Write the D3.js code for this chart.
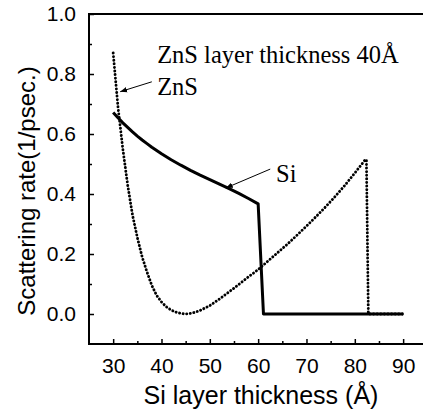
<!DOCTYPE html>
<html>
<head>
<meta charset="utf-8">
<script src="https://cdn.jsdelivr.net/npm/d3@7"></script>
<style>
  body { margin: 0; background: #fff; }
  svg { display: block; }
</style>
</head>
<body>
<script>
var W = 423, H = 410;

// Si layer thickness (Å) vs scattering rate (1/psec.)
var siX = [30, 31, 32, 33, 34, 35, 36, 37, 38, 39, 40, 42, 44, 46, 48, 50, 52, 54, 56, 58, 60, 61.1, 90];
var siY = [0.672, 0.654, 0.637, 0.622, 0.607, 0.593, 0.580, 0.568, 0.556, 0.545, 0.534, 0.514, 0.496, 0.479, 0.463, 0.448, 0.433, 0.418, 0.402, 0.385, 0.367, 0.0, 0.0];

var znsX = [30, 30.5, 31, 31.5, 32, 33, 34, 35, 36, 37, 38, 39, 40, 41, 42, 43, 44, 45, 46, 47, 48, 50, 52, 55, 58, 60, 62, 64, 66, 68, 70, 72, 74, 76, 78, 80, 82, 82.4, 82.8, 90];
var znsY = [0.87, 0.78, 0.69, 0.62, 0.55, 0.43, 0.33, 0.255, 0.19, 0.14, 0.095, 0.062, 0.04, 0.024, 0.013, 0.006, 0.002, 0.0, 0.002, 0.006, 0.012, 0.028, 0.05, 0.086, 0.124, 0.148, 0.176, 0.204, 0.232, 0.262, 0.293, 0.325, 0.358, 0.393, 0.43, 0.47, 0.511, 0.515, 0.0, 0.0];

var xTicks = [30, 40, 50, 60, 70, 80, 90];
var xMinor = [35, 45, 55, 65, 75, 85];
var yTicks = [0.0, 0.2, 0.4, 0.6, 0.8, 1.0];
var yMinor = [0.1, 0.3, 0.5, 0.7, 0.9];

var svg = d3.select("body").append("svg")
  .attr("width", W)
  .attr("height", H);

var x = d3.scaleLinear().domain([25, 95]).range([89, 427.3]);
var y = d3.scaleLinear().domain([-0.1, 1.0]).range([344, 14]);

var sans = "Arial, 'Liberation Sans', sans-serif";
var serif = "'Times New Roman', 'Liberation Serif', serif";

// frame: left, bottom, top (right side runs off the picture)
var frame = svg.append("g").attr("stroke", "#000").attr("stroke-width", 2).attr("fill", "none");
frame.append("line").attr("x1", x(25)).attr("x2", x(25)).attr("y1", y(1.0) - 1).attr("y2", y(-0.1) + 1);
frame.append("line").attr("x1", x(25)).attr("x2", W).attr("y1", y(-0.1)).attr("y2", y(-0.1));
frame.append("line").attr("x1", x(25)).attr("x2", W).attr("y1", y(1.0)).attr("y2", y(1.0));

// inward ticks
var gx = svg.append("g").attr("transform", "translate(0," + y(-0.1) + ")")
  .call(d3.axisBottom(x).tickValues(xTicks).tickSizeInner(-5).tickSizeOuter(0).tickPadding(14)
    .tickFormat(d3.format("d")));
gx.select(".domain").remove();
gx.selectAll(".tick line").attr("stroke-width", 1.5);
gx.selectAll("text").attr("font-family", sans).attr("font-size", 21).attr("fill", "#000");

var gxm = svg.append("g").attr("transform", "translate(0," + y(-0.1) + ")")
  .call(d3.axisBottom(x).tickValues(xMinor).tickSizeInner(-3).tickSizeOuter(0).tickFormat(""));
gxm.select(".domain").remove();
gxm.selectAll(".tick line").attr("stroke-width", 1.5);

var gy = svg.append("g").attr("transform", "translate(" + x(25) + ",0)")
  .call(d3.axisLeft(y).tickValues(yTicks).tickSizeInner(-5).tickSizeOuter(0).tickPadding(13)
    .tickFormat(d3.format(".1f")));
gy.select(".domain").remove();
gy.selectAll(".tick line").attr("stroke-width", 1.5);
gy.selectAll("text").attr("font-family", sans).attr("font-size", 21).attr("fill", "#000");

var gym = svg.append("g").attr("transform", "translate(" + x(25) + ",0)")
  .call(d3.axisLeft(y).tickValues(yMinor).tickSizeInner(-3).tickSizeOuter(0).tickFormat(""));
gym.select(".domain").remove();
gym.selectAll(".tick line").attr("stroke-width", 1.5);

// curves
var line = d3.line().x(function(d) { return x(d[0]); }).y(function(d) { return y(d[1]); });

svg.append("path")
  .datum(d3.zip(znsX, znsY))
  .attr("d", line)
  .attr("fill", "none")
  .attr("stroke", "#000")
  .attr("stroke-width", 2.9)
  .attr("stroke-linecap", "round")
  .attr("stroke-dasharray", "0.1,3.5");

svg.append("path")
  .datum(d3.zip(siX, siY))
  .attr("d", line)
  .attr("fill", "none")
  .attr("stroke", "#000")
  .attr("stroke-width", 3)
  .attr("stroke-linejoin", "round");

// annotations
svg.append("defs").append("marker")
  .attr("id", "arr")
  .attr("viewBox", "0 0 10 10")
  .attr("refX", 10).attr("refY", 5)
  .attr("markerWidth", 7).attr("markerHeight", 7)
  .attr("markerUnits", "userSpaceOnUse")
  .attr("orient", "auto")
  .append("path").attr("d", "M0,1 L10,5 L0,9 Z").attr("fill", "#000");

function arrow(x1, y1, x2, y2) {
  svg.append("line")
    .attr("x1", x(x1)).attr("y1", y(y1))
    .attr("x2", x(x2)).attr("y2", y(y2))
    .attr("stroke", "#000").attr("stroke-width", 1)
    .attr("marker-end", "url(#arr)");
}
arrow(38.0, 0.774, 31.45, 0.741);
arrow(62.5, 0.483, 53.3, 0.42);

svg.append("text").attr("x", x(39.1)).attr("y", y(0.837))
  .attr("font-family", serif).attr("font-size", 24.5).text("ZnS layer thickness 40Å");
svg.append("text").attr("x", x(39.1)).attr("y", y(0.73))
  .attr("font-family", serif).attr("font-size", 24.5).text("ZnS");
svg.append("text").attr("x", x(63.7)).attr("y", y(0.44))
  .attr("font-family", serif).attr("font-size", 24.5).text("Si");

// axis titles
svg.append("text")
  .attr("x", 261).attr("y", 404)
  .attr("text-anchor", "middle")
  .attr("font-family", sans).attr("font-size", 25)
  .text("Si layer thickness (Å)");

svg.append("text")
  .attr("transform", "translate(35," + 191 + ") rotate(-90)")
  .attr("text-anchor", "middle")
  .attr("font-family", sans).attr("font-size", 24)
  .text("Scattering rate(1/psec.)");
</script>
</body>
</html>
